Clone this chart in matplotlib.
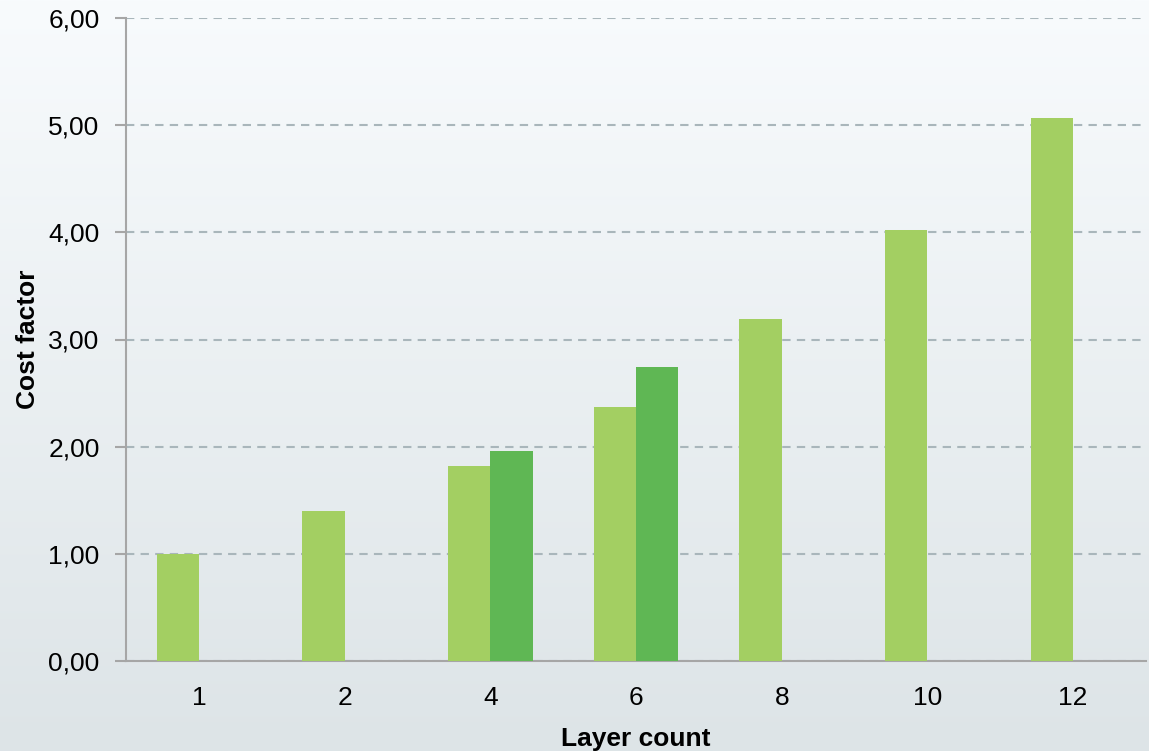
import numpy as np
import matplotlib.pyplot as plt
from matplotlib.colors import LinearSegmentedColormap

plt.rcParams['font.family'] = ['Liberation Sans', 'DejaVu Sans']

layers = ['1', '2', '4', '6', '8', '10', '12']
cost_a = [1.00, 1.40, 1.82, 2.37, 3.19, 4.02, 5.07]
cost_b = [np.nan, np.nan, 1.96, 2.74, np.nan, np.nan, np.nan]

fig = plt.figure(figsize=(11.49, 7.51), dpi=100)

# gradient background
bg = fig.add_axes([0, 0, 1, 1], zorder=-10)
cmap = LinearSegmentedColormap.from_list('bg', ['#f8fbfd', '#dde4e7'])
bg.imshow(np.linspace(0, 1, 256).reshape(-1, 1), aspect='auto', cmap=cmap,
          extent=[0, 1, 0, 1], origin='upper')
bg.axis('off')

W, H = 1149, 751
ax = fig.add_axes([126 / W, (H - 661) / H, 1020 / W, (661 - 18) / H])
ax.patch.set_alpha(0)

x = np.arange(len(layers))
w = 0.29
ax.bar(x - w / 2, cost_a, w, color='#a3cf62', zorder=3)
ax.bar(x + w / 2, cost_b, w, color='#5fb754', zorder=3)

ax.set_xlim(-0.5, len(layers) - 0.5)
ax.set_ylim(0, 6)
ax.set_yticks(np.arange(0, 7, 1))
ax.set_yticklabels([f'{v:.2f}'.replace('.', ',') for v in np.arange(0, 7, 1)])
ax.set_xticks(x)
ax.set_xticklabels(layers)

ax.grid(axis='y', linestyle=(0, (4, 3)), color='#a9b6bb', linewidth=1.5, zorder=0)
for s in ['top', 'right']:
    ax.spines[s].set_visible(False)
for s in ['left', 'bottom']:
    ax.spines[s].set_color('#a6a6a6')
    ax.spines[s].set_linewidth(1.5)

ax.tick_params(axis='y', length=8, width=1.5, color='#a6a6a6', labelsize=19, pad=11)
ax.tick_params(axis='x', length=0, labelsize=19, pad=18)

ax.set_ylabel('Cost factor', fontsize=19, fontweight='bold', labelpad=6)
ax.set_xlabel('Layer count', fontsize=19, fontweight='bold', labelpad=12)

fig.savefig('out.png', dpi=100)
